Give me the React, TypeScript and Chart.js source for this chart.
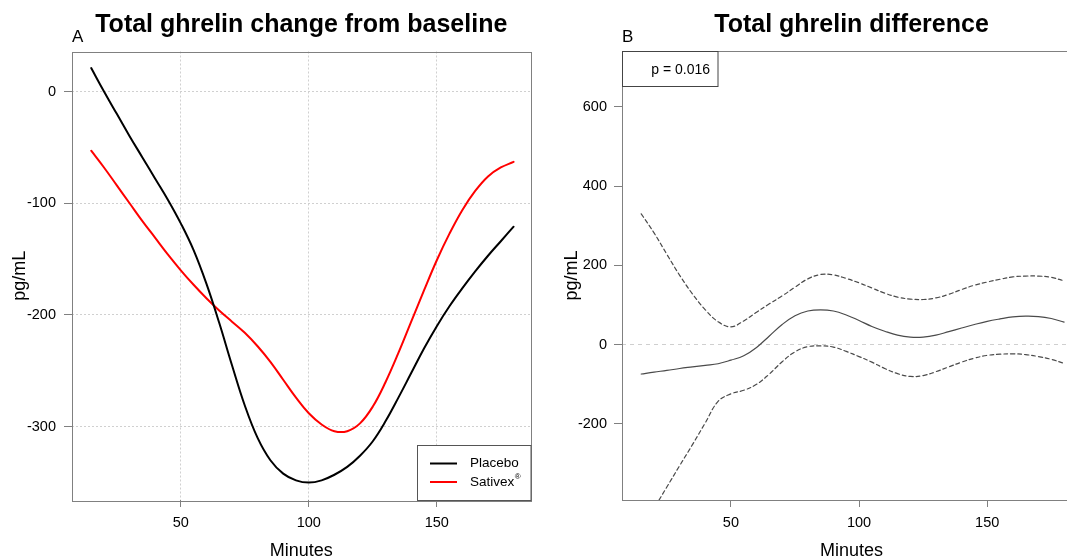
import React, { useEffect, useRef } from "react";
import { Chart, registerables } from "chart.js";

Chart.register(...registerables);

// ---------- data ----------
const minutes = [15, 20, 25, 30, 35, 40, 45, 50, 55, 60, 65, 70, 75, 80, 85, 90, 95, 100, 105, 110, 115, 120, 125, 130, 135, 140, 145, 150, 155, 160, 165, 170, 175, 180];
const placebo = [21, 0, -20, -40, -59, -78, -97, -118, -142, -172, -207, -245, -281, -310, -330, -342, -348, -350, -348, -343, -336, -326, -313, -295, -274, -252, -230, -210, -192, -176, -161, -147, -134, -121];
const sativex = [-53, -68, -84, -100, -116, -131, -146, -160, -173, -185, -196, -206, -216, -228, -242, -258, -274, -288, -298, -304, -304, -297, -282, -260, -234, -206, -178, -151, -127, -106, -89, -76, -68, -63];
const diffEstimate = [-74, -69, -65, -60, -56, -52, -48, -39, -28, -7, 22, 51, 73, 85, 88, 85, 75, 61, 46, 34, 24, 19, 19, 24, 33, 42, 51, 59, 65, 70, 72, 71, 66, 57];
const diffUpper = [330, 282, 228, 175, 128, 88, 58, 45, 60, 82, 103, 123, 145, 166, 177, 176, 167, 156, 143, 130, 120, 115, 114, 118, 127, 139, 150, 158, 165, 171, 173, 173, 170, 161];
const diffLower = [-468, -413, -359, -305, -252, -197, -143, -124, -115, -100, -74, -43, -18, -5, -3, -6, -17, -30, -44, -60, -73, -80, -78, -68, -56, -44, -34, -27, -24, -23, -25, -30, -37, -47];

const xTicks = [50, 100, 150];
const yTicksA = [-300, -200, -100, 0];
const yTicksB = [-200, 0, 200, 400, 600];
const seriesNames = ["Placebo", "Sativex"];
const seriesSup = ["", "®"];
const titleA = "Total ghrelin change from baseline";
const titleB = "Total ghrelin difference";
const letterA = "A";
const letterB = "B";
const xTitle = "Minutes";
const yTitle = "pg/mL";
const pText = "p = 0.016";

const FONT = "'Liberation Sans', Arial, Helvetica, sans-serif";
const AXIS = "#808080";

type Deco = {
  title: string;
  letter: string;
  yTitleX: number;
  extra?: (chart: any) => void;
};

const decor = (o: Deco) => ({
  id: "decor",
  afterDraw(chart: any) {
    const { ctx, chartArea: a } = chart;
    ctx.save();
    ctx.strokeStyle = AXIS;
    ctx.lineWidth = 1;
    ctx.strokeRect(Math.round(a.left) + 0.5, Math.round(a.top) + 0.5, Math.round(a.right - a.left), Math.round(a.bottom - a.top));
    ctx.fillStyle = "#000";
    ctx.textBaseline = "alphabetic";
    ctx.font = `bold 25px ${FONT}`;
    ctx.textAlign = "center";
    ctx.fillText(o.title, (a.left + a.right) / 2, 32);
    ctx.font = `17px ${FONT}`;
    ctx.textAlign = "left";
    ctx.fillText(o.letter, a.left, 41.5);
    ctx.font = `18px ${FONT}`;
    ctx.textAlign = "center";
    ctx.fillText(xTitle, (a.left + a.right) / 2, 556);
    ctx.save();
    ctx.translate(o.yTitleX, (a.top + a.bottom) / 2);
    ctx.rotate(-Math.PI / 2);
    ctx.textBaseline = "middle";
    ctx.fillText(yTitle, 0, 0);
    ctx.restore();
    if (o.extra) o.extra(chart);
    ctx.restore();
  },
});

const legendA = (chart: any) => {
  const { ctx, chartArea: a } = chart;
  const x0 = 417, y0 = 445;
  ctx.fillStyle = "#fff";
  ctx.fillRect(x0, y0, a.right - x0, a.bottom - y0);
  ctx.strokeStyle = "#555";
  ctx.lineWidth = 1;
  ctx.strokeRect(x0 + 0.5, y0 + 0.5, a.right - x0, a.bottom - y0);
  const rows = [463.5, 482];
  chart.data.datasets.forEach((ds: any, i: number) => {
    const y = rows[i];
    ctx.strokeStyle = ds.borderColor;
    ctx.lineWidth = 2;
    ctx.beginPath();
    ctx.moveTo(430, y);
    ctx.lineTo(457, y);
    ctx.stroke();
    ctx.fillStyle = "#000";
    ctx.font = `13.5px ${FONT}`;
    ctx.textAlign = "left";
    ctx.textBaseline = "middle";
    ctx.fillText(seriesNames[i], 470, y);
    if (seriesSup[i]) {
      const w = ctx.measureText(seriesNames[i]).width;
      ctx.font = `8px ${FONT}`;
      ctx.fillText(seriesSup[i], 470 + w + 0.5, y - 5);
    }
  });
};

const pBox = (chart: any) => {
  const { ctx, chartArea: a } = chart;
  const right = 157.5, bottom = 86;
  ctx.fillStyle = "#fff";
  ctx.fillRect(a.left + 1, a.top + 1, right - a.left - 1, bottom - a.top - 1);
  ctx.strokeStyle = "#444";
  ctx.lineWidth = 1;
  ctx.strokeRect(Math.round(a.left) + 0.5, Math.round(a.top) + 0.5, right - Math.round(a.left), bottom - Math.round(a.top));
  ctx.fillStyle = "#000";
  ctx.font = `14px ${FONT}`;
  ctx.textAlign = "right";
  ctx.textBaseline = "middle";
  ctx.fillText(pText, 150, 70.5);
};

const pts = (ys: number[]) => minutes.map((m, i) => ({ x: m, y: ys[i] }));

const tickFont = { family: FONT, size: 14.5 };

function xScale() {
  return {
    type: "linear",
    min: 7.5,
    max: 186.6,
    afterFit: (s: any) => {
      s.height = 58;
    },
    afterBuildTicks: (s: any) => {
      s.ticks = xTicks.map((v) => ({ value: v }));
    },
    ticks: { font: tickFont, color: "#000", padding: 7, maxRotation: 0, autoSkip: false },
  };
}

const lineElements = { point: { radius: 0 }, line: { tension: 0.4, fill: false, borderCapStyle: "round", borderJoinStyle: "round" } };

function configA(): any {
  return {
    type: "line",
    data: {
      datasets: [
        { label: seriesNames[0], data: pts(placebo), borderColor: "#000000", borderWidth: 2 },
        { label: seriesNames[1], data: pts(sativex), borderColor: "#ff0000", borderWidth: 2 },
      ],
    },
    options: {
      animation: false,
      responsive: false,
      devicePixelRatio: 1,
      layout: { padding: { top: 51.5, right: 29.5, left: 0, bottom: 0 } },
      plugins: { legend: { display: false }, tooltip: { enabled: false }, title: { display: false } },
      elements: lineElements,
      scales: {
        x: {
          ...xScale(),
          grid: { color: "#d0d0d0", lineWidth: 1, tickColor: AXIS, tickLength: 7, tickWidth: 1, drawOnChartArea: true },
          border: { display: false, dash: [2, 2] },
        },
        y: {
          type: "linear",
          min: -365.6,
          max: 35.8,
          afterFit: (s: any) => {
            s.width = 72;
          },
          afterBuildTicks: (s: any) => {
            s.ticks = yTicksA.map((v) => ({ value: v }));
          },
          ticks: { font: tickFont, color: "#000", padding: 8 },
          grid: { color: "#d0d0d0", lineWidth: 1, tickColor: AXIS, tickLength: 8, tickWidth: 1, drawOnChartArea: true },
          border: { display: false, dash: [2, 2] },
        },
      },
    },
    plugins: [decor({ title: titleA, letter: letterA, yTitleX: 20, extra: legendA })],
  };
}

function configB(): any {
  const lineCol = "#4a4a4a";
  return {
    type: "line",
    data: {
      datasets: [
        { label: "estimate", data: pts(diffEstimate), borderColor: lineCol, borderWidth: 1.2 },
        { label: "upper", data: pts(diffUpper), borderColor: lineCol, borderWidth: 1.2, borderDash: [4, 3] },
        { label: "lower", data: pts(diffLower), borderColor: lineCol, borderWidth: 1.2, borderDash: [4, 3] },
      ],
    },
    options: {
      animation: false,
      responsive: false,
      devicePixelRatio: 1,
      layout: { padding: { top: 51, right: 19, left: 0, bottom: 0 } },
      plugins: { legend: { display: false }, tooltip: { enabled: false }, title: { display: false } },
      elements: lineElements,
      scales: {
        x: {
          ...xScale(),
          grid: { color: "rgba(0,0,0,0)", tickColor: AXIS, tickLength: 7, tickWidth: 1, drawOnChartArea: false },
          border: { display: false },
        },
        y: {
          type: "linear",
          min: -391.7,
          max: 740.7,
          afterFit: (s: any) => {
            s.width = 62;
          },
          afterBuildTicks: (s: any) => {
            s.ticks = yTicksB.map((v) => ({ value: v }));
          },
          ticks: { font: tickFont, color: "#000", padding: 7 },
          grid: {
            color: (c: any) => (c.tick && c.tick.value === 0 ? "#cfcfcf" : "rgba(0,0,0,0)"),
            lineWidth: 1,
            tickColor: AXIS,
            tickLength: 8,
            tickWidth: 1,
            drawOnChartArea: true,
          },
          border: { display: false, dash: [4, 4] },
        },
      },
    },
    plugins: [decor({ title: titleB, letter: letterB, yTitleX: 12, extra: pBox })],
  };
}

function Panel({ left, width, make }: { left: number; width: number; make: () => any }) {
  const ref = useRef<HTMLCanvasElement>(null);
  useEffect(() => {
    if (!ref.current) return;
    const chart = new Chart(ref.current, make());
    return () => chart.destroy();
  }, []);
  return (
    <canvas
      ref={ref}
      width={width}
      height={558}
      style={{ position: "absolute", left, top: 0, width, height: 558, display: "block" }}
    />
  );
}

export default function App() {
  return (
    <div
      style={{
        position: "fixed",
        left: 0,
        top: 0,
        width: 1067,
        height: 558,
        overflow: "hidden",
        background: "#fff",
      }}
    >
      <Panel left={0} width={560} make={configA} />
      <Panel left={560} width={540} make={configB} />
    </div>
  );
}
